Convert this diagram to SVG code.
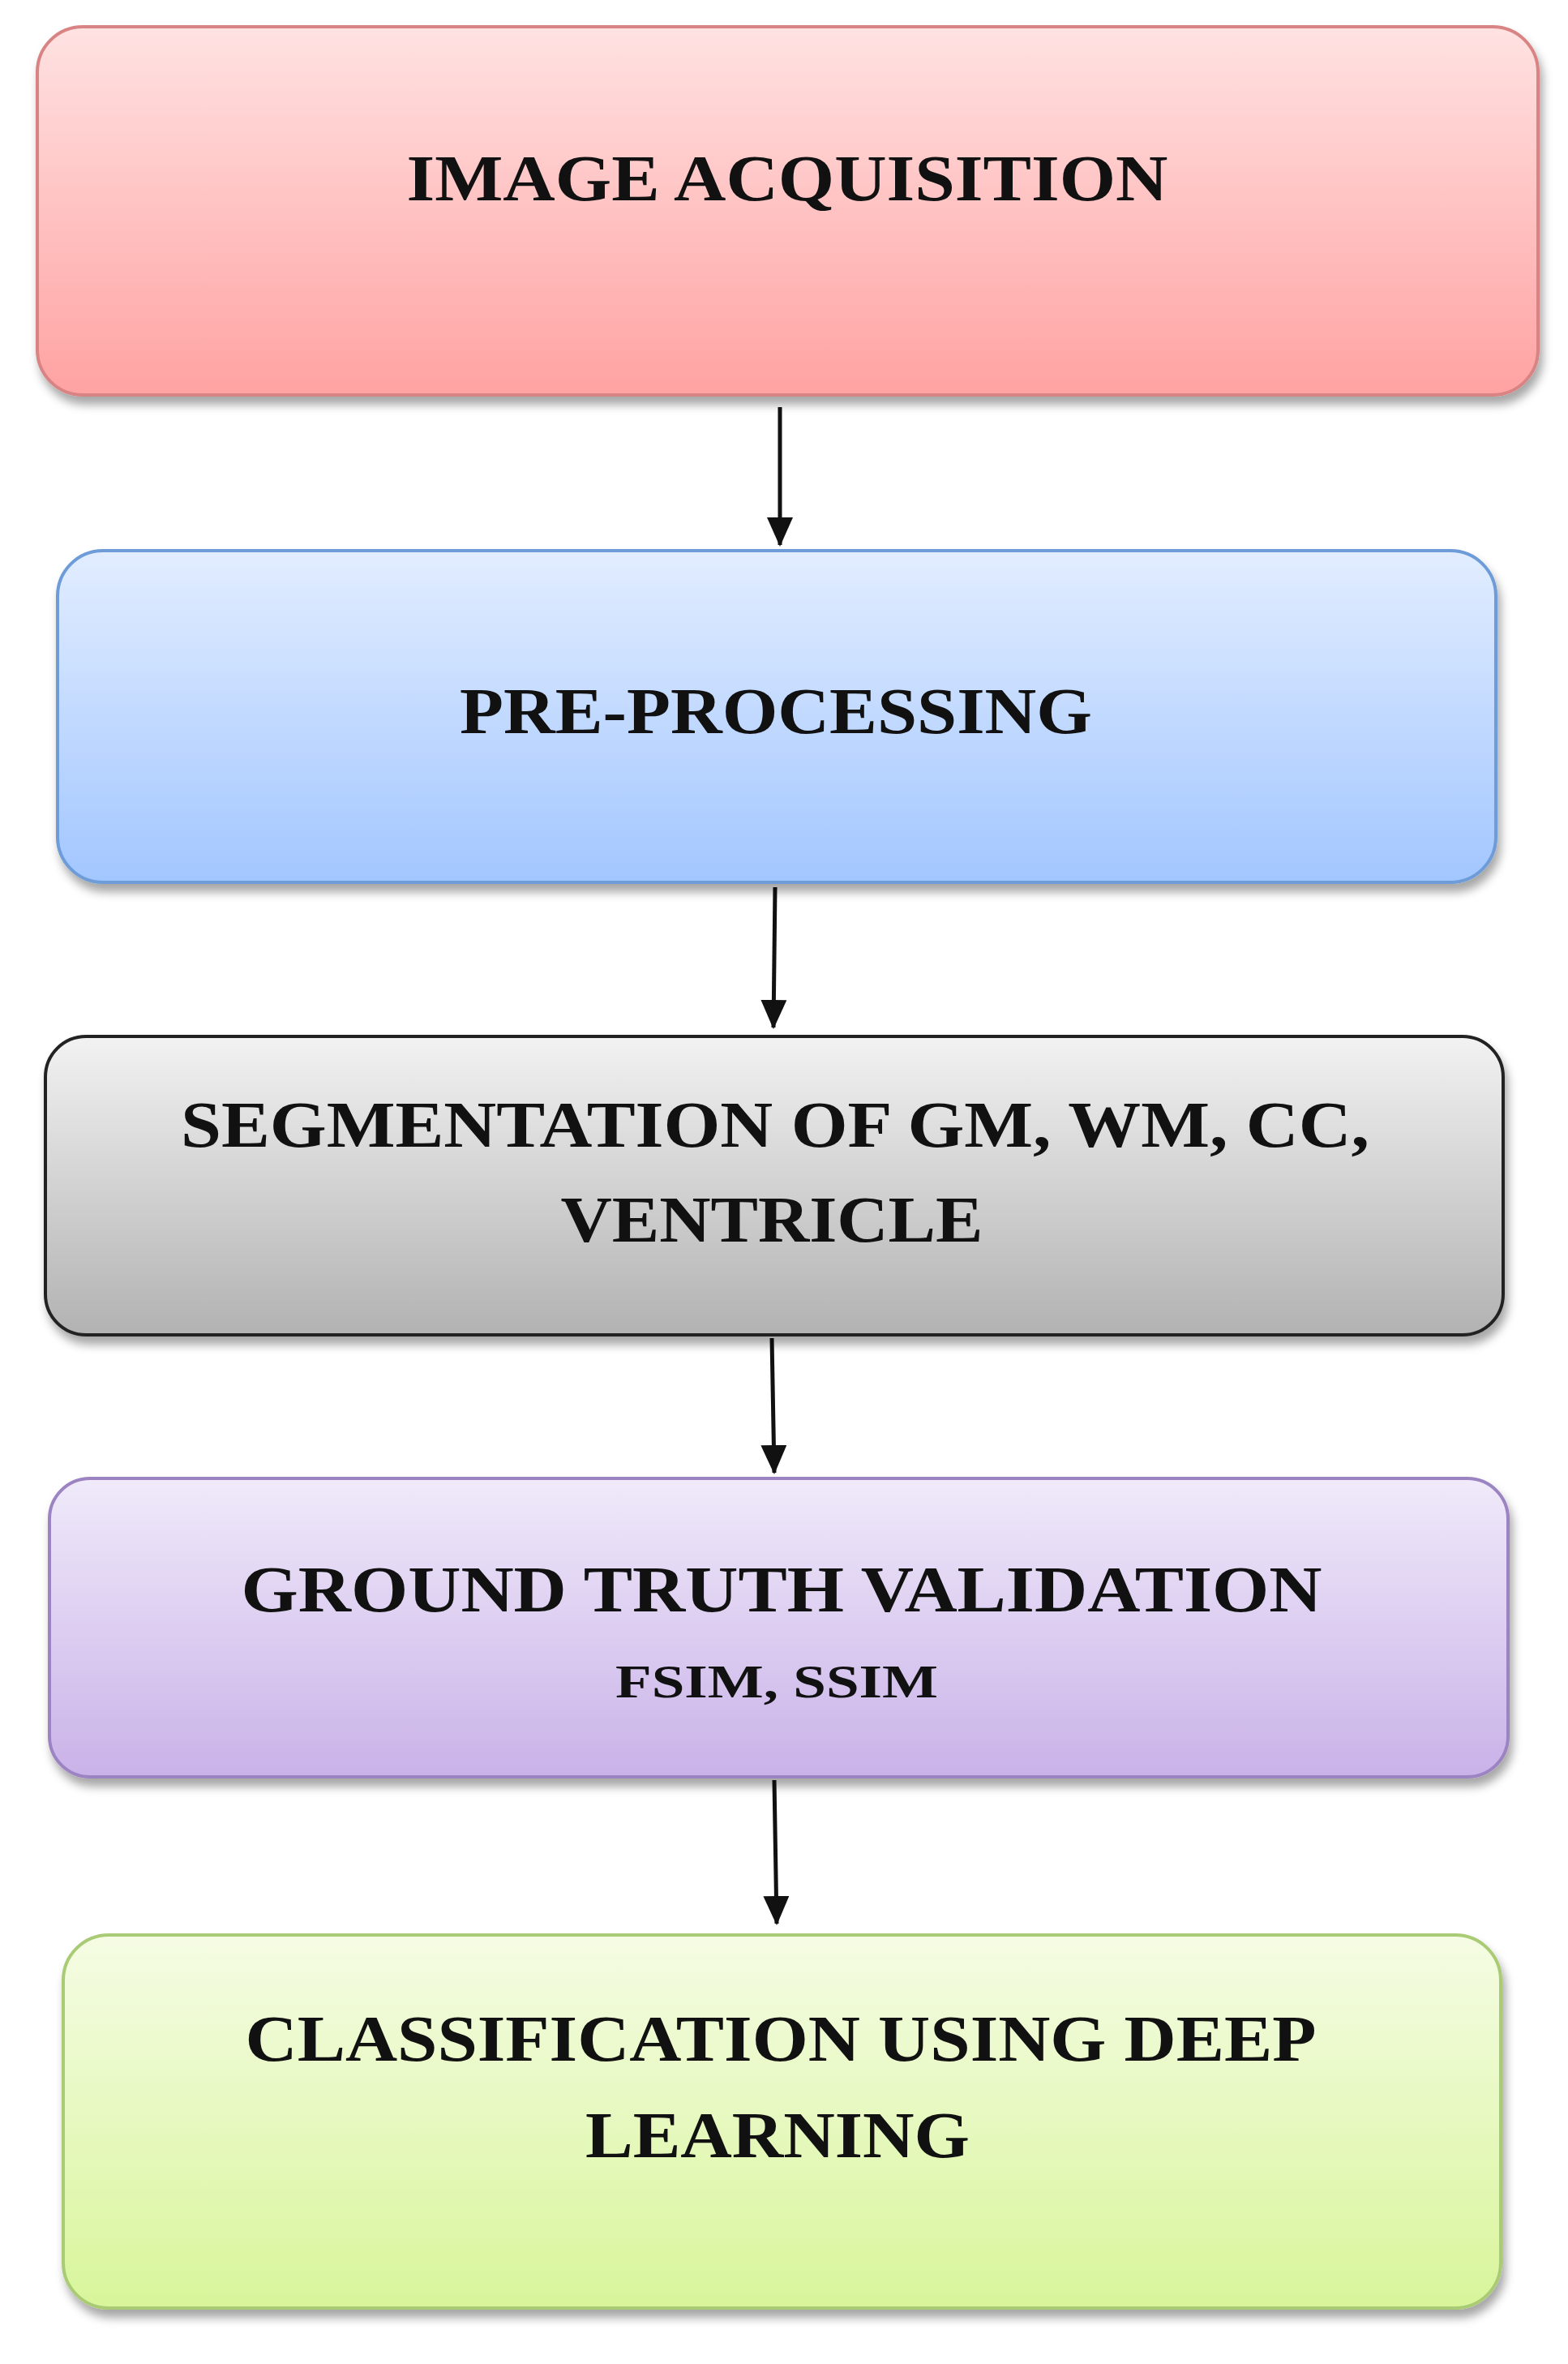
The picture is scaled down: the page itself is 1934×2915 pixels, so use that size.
<svg xmlns="http://www.w3.org/2000/svg" width="1934" height="2915" viewBox="0 0 1934 2915">
<style>
.t{font-family:"Liberation Serif","Times New Roman",serif;font-weight:bold;font-size:80px;fill:#111;text-anchor:middle}
.s{font-size:58px}
.c{stroke:#111;stroke-width:5;fill:none;marker-end:url(#ah)}
</style>
<defs>
<filter id="sh" x="-5%" y="-5%" width="110%" height="120%"><feDropShadow dx="4" dy="10" stdDeviation="6" flood-color="#000" flood-opacity="0.35"/></filter>
<marker id="ah" markerWidth="36" markerHeight="32" refX="34" refY="16" orient="auto" markerUnits="userSpaceOnUse" viewBox="0 0 36 32"><path d="M0,0L36,16L0,32z" fill="#111"/></marker>
<linearGradient id="g1" x1="0" y1="0" x2="0" y2="1"><stop offset="0" stop-color="#ffe2e2"/><stop offset="1" stop-color="#ffa2a2"/></linearGradient>
<linearGradient id="g2" x1="0" y1="0" x2="0" y2="1"><stop offset="0" stop-color="#e2edff"/><stop offset="1" stop-color="#a2c6ff"/></linearGradient>
<linearGradient id="g3" x1="0" y1="0" x2="0" y2="1"><stop offset="0" stop-color="#f2f2f2"/><stop offset="1" stop-color="#b2b2b2"/></linearGradient>
<linearGradient id="g4" x1="0" y1="0" x2="0" y2="1"><stop offset="0" stop-color="#f0eafa"/><stop offset="1" stop-color="#c9b2e8"/></linearGradient>
<linearGradient id="g5" x1="0" y1="0" x2="0" y2="1"><stop offset="0" stop-color="#f5fce4"/><stop offset="1" stop-color="#d8f59a"/></linearGradient>
</defs>
<rect width="1934" height="2915" fill="#fff"/>
<g id="connectors">
<path class="c" d="M962,502L962,672"/>
<path class="c" d="M956,1094L954,1267"/>
<path class="c" d="M952,1650L955,1816"/>
<path class="c" d="M955,2195L958,2372"/>
</g>
<g id="n1"><rect x="46" y="33" width="1851" height="454" rx="56" fill="url(#g1)" stroke="#d98484" stroke-width="4" filter="url(#sh)"/>
<text class="t" x="971" y="247" textLength="939" lengthAdjust="spacingAndGlyphs">IMAGE ACQUISITION</text></g>
<g id="n2"><rect x="71" y="679" width="1774" height="409" rx="56" fill="url(#g2)" stroke="#6e9cd8" stroke-width="4" filter="url(#sh)"/>
<text class="t" x="957" y="904" textLength="780" lengthAdjust="spacingAndGlyphs">PRE-PROCESSING</text></g>
<g id="n3"><rect x="56" y="1278" width="1798" height="368" rx="50" fill="url(#g3)" stroke="#222" stroke-width="4" filter="url(#sh)"/>
<text class="t" x="956" y="1414" textLength="1466" lengthAdjust="spacingAndGlyphs">SEGMENTATION OF GM, WM, CC,</text>
<text class="t" x="952" y="1531" textLength="521" lengthAdjust="spacingAndGlyphs">VENTRICLE</text></g>
<g id="n4"><rect x="61" y="1823" width="1799" height="368" rx="50" fill="url(#g4)" stroke="#9c84c2" stroke-width="4" filter="url(#sh)"/>
<text class="t" x="964" y="1987" textLength="1333" lengthAdjust="spacingAndGlyphs">GROUND TRUTH VALIDATION</text>
<text class="t s" x="958" y="2093" textLength="398" lengthAdjust="spacingAndGlyphs">FSIM, SSIM</text></g>
<g id="n5"><rect x="78" y="2386" width="1773" height="460" rx="56" fill="url(#g5)" stroke="#aacb74" stroke-width="4" filter="url(#sh)"/>
<text class="t" x="963" y="2541" textLength="1321" lengthAdjust="spacingAndGlyphs">CLASSIFICATION USING DEEP</text>
<text class="t" x="959" y="2660" textLength="474" lengthAdjust="spacingAndGlyphs">LEARNING</text></g>
</svg>
